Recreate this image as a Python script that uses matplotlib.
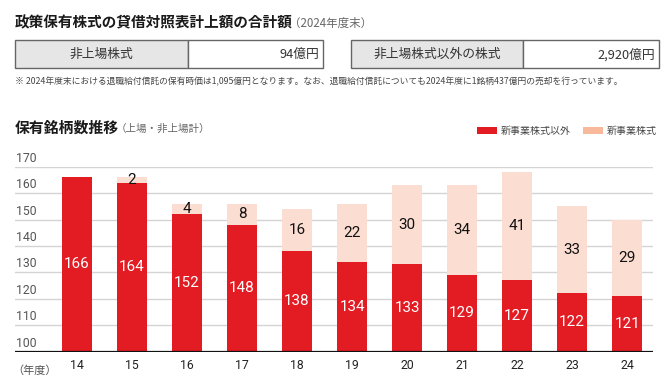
import matplotlib
matplotlib.use("Agg")
import matplotlib.pyplot as plt
from matplotlib.patches import Rectangle

plt.rcParams['font.family'] = ['Noto Sans CJK JP', 'DejaVu Sans']

# ---- data ----
years = ["14", "15", "16", "17", "18", "19", "20", "21", "22", "23", "24"]
other_stocks = [166, 164, 152, 148, 138, 134, 133, 129, 127, 122, 121]   # 新事業株式以外
new_business = [0, 2, 4, 8, 16, 22, 30, 34, 41, 33, 29]                  # 新事業株式
series_names = ["新事業株式以外", "新事業株式"]
yticks = [100, 110, 120, 130, 140, 150, 160, 170]

main_title = "政策保有株式の貸借対照表計上額の合計額"
main_sub = "（2024年度末）"
box_labels = ["非上場株式", "非上場株式以外の株式"]
box_values = ["94億円", "2,920億円"]
note = "※ 2024年度末における退職給付信託の保有時価は1,095億円となります。なお、退職給付信託についても2024年度に1銘柄437億円の売却を行っています。"
chart_title = "保有銘柄数推移"
chart_sub = "（上場・非上場計）"
xunit = "（年度）"

RED = "#e31b23"
PEACH = "#fbddd1"
PEACH_LEG = "#f8b89c"
GRAY_TXT = "#555555"

W, H = 670, 385
fig = plt.figure(figsize=(W / 100, H / 100), dpi=100)

# overlay axes in pixel units for header content
axo = fig.add_axes([0, 0, 1, 1])
axo.set_xlim(0, W)
axo.set_ylim(H, 0)
axo.axis('off')

axo.text(15, 22, main_title, fontsize=10.5, fontweight='bold', color="#1a1a1a",
         ha='left', va='center')
axo.text(289, 23, main_sub, fontsize=8.3, color="#666666", ha='left', va='center')

boxes = [(15, 188, 323), (351, 523, 659)]
for (x0, xm, x1), lab, val in zip(boxes, box_labels, box_values):
    axo.add_patch(Rectangle((x0, 40), xm - x0, 28, facecolor="#e6e6e6",
                            edgecolor="#666666", lw=1.0))
    axo.add_patch(Rectangle((xm, 40), x1 - xm, 28, facecolor="white",
                            edgecolor="#666666", lw=1.0))
    axo.text((x0 + xm) / 2, 54.5, lab, fontsize=9.2, color="#333333",
             ha='center', va='center')
    axo.text(x1 - 4, 54.5, val, fontsize=9.2, color="#333333",
             ha='right', va='center')

axo.text(15, 82, note, fontsize=6.3, color="#444444", ha='left', va='center')

axo.text(15, 128, chart_title, fontsize=10.7, fontweight='bold', color="#1a1a1a",
         ha='left', va='center')
axo.text(116, 129, chart_sub, fontsize=7.6, color="#666666", ha='left', va='center')

# ---- chart axes ----
left, right, top, bottom = 15, 653, 166.7, 351.5
ax = fig.add_axes([left / W, 1 - bottom / H, (right - left) / W, (bottom - top) / H])
x = list(range(len(years)))
ax.set_ylim(100, 170)
ax.set_xlim(-1.127, 10.47)
for s in ax.spines.values():
    s.set_visible(False)

for v in yticks[1:]:
    ax.axhline(v, color="#d4d4d4", lw=1.0, zorder=0)
ax.axhline(100, color="#111111", lw=1.6, zorder=3)

bw = 0.545
b1 = ax.bar(x, other_stocks, width=bw, color=RED, zorder=2, label=series_names[0])
b2 = ax.bar(x, new_business, width=bw, bottom=other_stocks, color=PEACH, zorder=2,
            label=series_names[1])

ymin = ax.get_ylim()[0]
for xi, r, p in zip(x, other_stocks, new_business):
    ax.text(xi, (ymin + r) / 2, str(r), color="white", fontsize=11,
            family=['Roboto', 'DejaVu Sans'], ha='center', va='center', zorder=4)
    if p > 0:
        ax.text(xi, r + p / 2, str(p), color="#111111", fontsize=11,
                family=['Roboto', 'DejaVu Sans'], ha='center', va='center', zorder=4)

# y tick labels above gridlines, left-aligned
ax.set_yticks([])
for v in yticks:
    ax.annotate(str(v), xy=(0, v), xycoords=('axes fraction', 'data'),
                xytext=(1, 6), textcoords='offset points', fontsize=8.8,
                family=['Roboto', 'DejaVu Sans'], color=GRAY_TXT,
                ha='left', va='center')

ax.set_xticks(x, years)
ax.tick_params(axis='x', length=0, pad=5.5, labelsize=8.8, labelcolor="#222222")
for t in ax.get_xticklabels():
    t.set_family(['Roboto', 'DejaVu Sans'])
ax.annotate(xunit, xy=(0, 0), xycoords='axes fraction', xytext=(-2, -13.5),
            textcoords='offset points', fontsize=8, color=GRAY_TXT,
            ha='left', va='center')

leg = ax.legend(handles=[b1, b2], loc='center right',
                bbox_to_anchor=(662 / W, 1 - 131 / H), bbox_transform=fig.transFigure,
                ncol=2, frameon=False, borderpad=0, fontsize=7.2,
                handlelength=2.0, handleheight=0.6, handletextpad=0.4,
                columnspacing=1.2, labelcolor="#444444")
leg.legend_handles[1].set_facecolor(PEACH_LEG)

fig.savefig("out.png", dpi=100)
